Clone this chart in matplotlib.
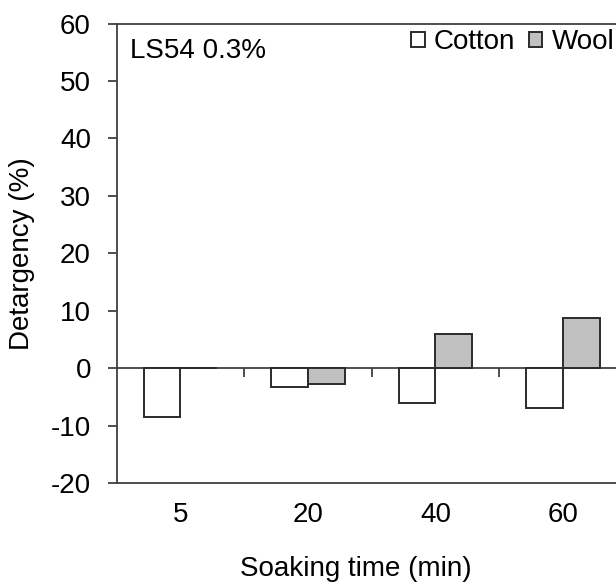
import numpy as np
import matplotlib
matplotlib.use("Agg")
import matplotlib.pyplot as plt

plt.rcParams['font.family'] = ['Liberation Sans', 'DejaVu Sans']
plt.rcParams['axes.unicode_minus'] = False

times = ['5', '20', '40', '60']
cotton = [-8.5, -3.3, -6.0, -7.0]
wool = [0.0, -2.8, 5.9, 8.8]
yticks = [-20, -10, 0, 10, 20, 30, 40, 50, 60]

FS = 20
edge = '#2b2b2b'
spine_c = '#404040'

fig = plt.figure(figsize=(6.16, 5.83), dpi=100)
ax = fig.add_axes([0.1894, 0.1715, 510 / 616, 459.5 / 583])

x = np.arange(len(times))
w = 0.288
ax.bar(x - w / 2, cotton, w, color='white', edgecolor=edge, linewidth=1.4, label='Cotton', zorder=3)
ax.bar(x + w / 2, wool, w, color='#C0C0C0', edgecolor=edge, linewidth=1.4, label='Wool', zorder=3)

ax.set_xlim(-0.5, len(times) - 0.5)
ax.set_ylim(-20, 60)
ax.set_yticks(yticks)
ax.set_yticklabels([str(v) for v in yticks])
ax.set_xticks(x)
ax.set_xticklabels(times)

for s in ax.spines.values():
    s.set_color(spine_c)
    s.set_linewidth(1.3)
ax.spines['right'].set_visible(False)

ax.tick_params(axis='y', direction='out', length=6.5, width=1.3, color=spine_c, pad=12, labelsize=FS)
ax.tick_params(axis='x', length=0, pad=14, labelsize=FS)

# zero line with category-boundary ticks
zero_frac = (0 - (-20)) / (60 - (-20))
sec = ax.secondary_xaxis(zero_frac)
sec.set_xticks(x[:-1] + 0.5)
sec.set_xticklabels([''] * (len(times) - 1))
sec.tick_params(axis='x', direction='out', length=6.5, width=1.3, color=spine_c)
sec.spines['bottom'].set_color(spine_c)
sec.spines['bottom'].set_linewidth(1.3)

ax.set_ylabel('Detargency (%)', fontsize=FS)
ax.yaxis.set_label_coords(-0.160, 0.5)
ax.set_xlabel('Soaking time (min)', fontsize=FS)
ax.xaxis.set_label_coords(0.469, -0.158)

ax.text(0.026, 0.924, 'LS54 0.3%', transform=ax.transAxes, fontsize=FS, va='baseline', ha='left')

ax.legend(loc='upper left', bbox_to_anchor=(0.578, 0.987), ncol=2, frameon=False, fontsize=FS,
          handlelength=0.47, handleheight=0.47, handletextpad=0.34, columnspacing=0.5,
          borderpad=0, borderaxespad=0)

fig.savefig('out.png', dpi=100)
